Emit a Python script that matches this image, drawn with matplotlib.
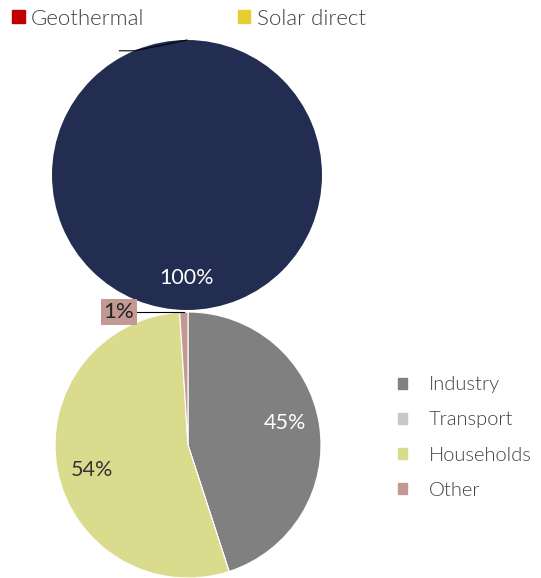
import numpy as np
import matplotlib.pyplot as plt
from matplotlib.patches import Patch

plt.rcParams['font.family'] = ['Lato', 'DejaVu Sans']
plt.rcParams['font.weight'] = 300

# top pie: supply
top_labels = ['Other sources', 'Geothermal', 'Solar direct']
top_values = [100, 0.0, 0.0]
top_colors = ['#232D52', '#C00000', '#E3CF2F']
top_legend = ['Geothermal', 'Solar direct']

# bottom pie: final consumption
sector_labels = ['Industry', 'Transport', 'Households', 'Other']
sector_values = [45, 0, 54, 1]
sector_colors = ['#808080', '#C8C8C8', '#DBDB8E', '#C39A93']

W, H = 541, 578
fig = plt.figure(figsize=(W / 100, H / 100), dpi=100)


def pie_axes(cx, cy, r):
    return fig.add_axes([(cx - r) / W, 1 - (cy + r) / H, 2 * r / W, 2 * r / H])


# ---- top pie
ax1 = pie_axes(187, 175, 135)
wedges1, _ = ax1.pie(top_values, colors=top_colors, startangle=90, counterclock=False,
                     radius=1, wedgeprops=dict(linewidth=0))
ax1.text(0, -0.76, '100%', ha='center', va='center', color='white', fontsize=15.5,
         fontweight='normal')
# leader line of the empty slice at the top
ax1.plot([-0.5, -0.39, 0.0], [0.92, 0.92, 1.0], color='black', lw=0.8, clip_on=False)
ax1.set_xlim(-1, 1)
ax1.set_ylim(-1, 1)
ax1.set_aspect('equal')

fig.legend([Patch(color=c) for c in top_colors[1:]], top_legend, ncol=2,
           loc='upper left', bbox_to_anchor=(-0.006, 1.012), frameon=False, fontsize=16,
           handlelength=0.55, handleheight=0.55, handletextpad=0.3, columnspacing=4.2,
           labelcolor='#404040', borderpad=0.2)

# ---- bottom pie
ax2 = pie_axes(188, 445, 133)
wedges2, texts2 = ax2.pie(sector_values, colors=sector_colors, startangle=90, counterclock=False,
                          radius=1, wedgeprops=dict(linewidth=0.8, edgecolor='white'))
pct_colors = ['white', 'white', '#333333', '#333333']
for w, v, c in zip(wedges2, sector_values, pct_colors):
    if v < 5:
        continue
    ang = np.deg2rad((w.theta1 + w.theta2) / 2 + 4)
    ax2.text(0.75 * np.cos(ang), 0.75 * np.sin(ang), f'{v}%', ha='center', va='center',
             color=c, fontsize=15.5, fontweight='normal')
w_other = wedges2[3]
ang = np.deg2rad((w_other.theta1 + w_other.theta2) / 2)
ax2.plot([np.cos(ang), -0.42], [np.sin(ang), np.sin(ang)], color='black', lw=0.8, clip_on=False)
ax2.text(-0.52, np.sin(ang), f'{sector_values[3]}%', ha='center', va='center', fontsize=16,
         color='#222222', fontweight='normal',
         bbox=dict(boxstyle='square,pad=0.12', fc=sector_colors[3], ec='none'))
ax2.set_xlim(-1, 1)
ax2.set_ylim(-1, 1)
ax2.set_aspect('equal')

fig.legend([Patch(color=c) for c in sector_colors], sector_labels, loc='center left',
           bbox_to_anchor=(0.702, 0.243), frameon=False, fontsize=14.5,
           handlelength=0.45, handleheight=0.45, handletextpad=1.1, labelspacing=0.9,
           labelcolor='#404040')

fig.savefig('out.png', dpi=100)
